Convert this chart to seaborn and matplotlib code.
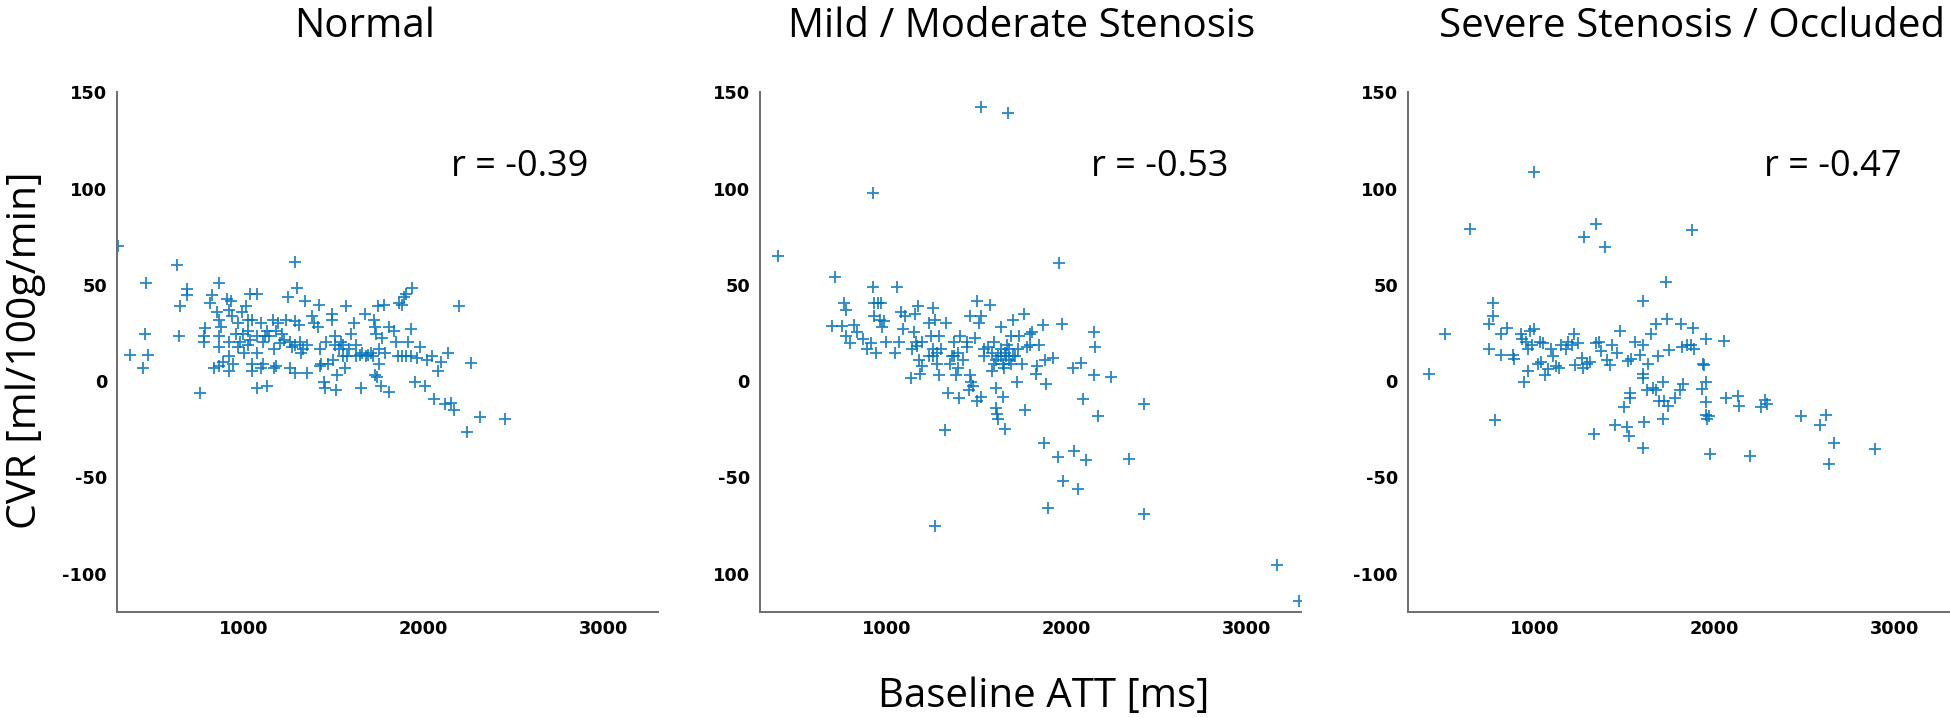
import matplotlib
matplotlib.use("Agg")
import matplotlib.pyplot as plt
import seaborn as sns
import pandas as pd
from matplotlib.ticker import FixedLocator, FixedFormatter

# ---------------- data ----------------
titles = ["Normal", "Mild / Moderate Stenosis", "Severe Stenosis / Occluded"]
r_labels = ["r = -0.39", "r = -0.53", "r = -0.47"]
r_x = [2535, 2514, 2654]
r_y = [106.5, 106.5, 106.5]

x_ticks = [1000, 2000, 3000]
y_ticks = [-100, -50, 0, 50, 100, 150]
y_ticklabels_std = ["-100", "-50", "0", "50", "100", "150"]
y_ticklabels_mid = ["100", "-50", "0", "50", "100", "150"]

normal_att = [304, 374, 444, 456, 463, 472, 631, 650, 643, 689, 689, 762, 790, 785, 785,
              864, 829, 818, 853, 864, 836, 864, 876, 864, 864, 911, 930, 935, 923, 923,
              946, 958, 970, 981, 993, 1005, 1016, 1028, 1028, 1040, 1051, 1051, 1040, 1079,
              1075, 1075, 1098, 1110, 1110, 1133, 1145, 1164, 1168, 1180, 1192, 1203, 1215,
              1250, 1262, 1262, 1273, 1285, 1297, 1285, 1285, 1308, 1313, 1320, 1343, 1355,
              1379, 1390, 1414, 1421, 1425, 1432, 1449, 1453, 1460, 1495, 1495, 1500, 1507,
              1514, 1519, 1530, 1542, 1554, 1565, 1572, 1589, 1600, 1612, 1624, 1654, 1659,
              1678, 1694, 1717, 1724, 1729, 1736, 1745, 1729, 1741, 1752, 1764, 1771, 1780,
              1787, 1811, 1811, 1834, 1846, 1857, 1864, 1881, 1893, 1904, 1935, 1928, 1911,
              1904, 1951, 1963, 1981, 2009, 2021, 2044, 2056, 2079, 2098, 2121, 2138, 2150,
              2168, 2196, 2243, 2262, 2313, 2449,
              1000, 1028, 970, 1079, 1121, 1180, 1227, 1332, 1425, 1472, 1507, 1554, 1577,
              1624, 1647, 1682, 1706, 1752, 1881, 1928, 923, 888, 1051, 1133, 1238, 1355,
              1285, 1098, 1168, 923]
normal_cvr = [70, 13.8, 7.1, 24.4, 51.2, 13.8, 60.3, 39.2, 23.4, 48, 44.5, -6.3, 27.8, 23.4,
              20.5, 51.2, 44.5, 40.7, 35.9, 32, 7.1, 8, 28.2, 23.4, 17.7, 42.6, 41.7, 34, 20.5,
              5.2, 9, 24.4, 30, 20.5, 35.9, 14.8, 38.8, 32, 26.3, 21.5, 9, 5.2, 45.5, 45.5,
              -3.5, 14.8, 30, 20.5, 9, -2.5, 23.4, 32, 16.7, 8, 30, 19.6, 24.4, 43.6, 20.5,
              7.1, 17.7, 61.8, 48.4, 31.1, 4.2, 29.2, 20.5, 14.8, 41.7, 4.2, 34, 30, 28.2,
              39.7, 16.7, 9, -0.6, -3.5, 20.5, 34.9, 32, 10.9, 18.6, -4.4, 3.3, 16.7, 20.5,
              12.9, 7.1, 38.8, 16.7, 24.4, 30, 18.6, -3.5, 14.8, 34.9, 13.8, 12.9, 32, 28.2,
              24.4, 38.8, 3.3, 2.3, 9, -2.5, 22.5, 39.7, 14.8, -5.4, 28.2, 26.3, 20.5, 12.9,
              40.7, 39.7, 43.6, 45.5, 48.4, 27.3, 20.5, 12.9, -0.6, 11.9, 17.7, -2.5, 10.9,
              12.9, -9.2, 5.2, 10, -12.1, 14.8, -11.1, -15, 39.2, -26.5, 9.4, -18.8, -19.8,
              24.4, 18.6, 17.7, 23.4, 23.4, 26.3, 21.5, 16.7, 8, 9, 23.4, 18.6, 12.9, 12.9,
              13.8, 12.9, 14.8, 16.7, 12.9, 12.9, 12.9, 10, 32, 26.3, 32, 18.6, 18.6, 7.1,
              7.1, 36.9]

mild_att = [401, 714, 925, 1523, 1676, 1958, 1974, 925, 1059, 702, 754, 765, 777, 777, 800,
            824, 836, 871, 894, 918, 930, 934, 941, 953, 965, 977, 988, 1000, 972, 1047, 1070,
            1082, 1094, 1106, 1136, 1153, 1160, 1169, 1176, 1183, 1188, 1200, 1200, 1235, 1246,
            1258, 1258, 1270, 1282, 1293, 1293, 1305, 1324, 1270, 1329, 1340, 1352, 1364, 1376,
            1387, 1399, 1404, 1411, 1423, 1446, 1458, 1465, 1465, 1469, 1481, 1493, 1505, 1505,
            1516, 1528, 1528, 1540, 1563, 1575, 1587, 1599, 1610, 1615, 1622, 1610, 1622, 1634,
            1638, 1646, 1653, 1657, 1662, 1669, 1681, 1692, 1704, 1716, 1723, 1728, 1739, 1751,
            1763, 1770, 1779, 1798, 1810, 1829, 1845, 1869, 1873, 1880, 1887, 1897, 1927, 1951,
            1981, 2038, 2040, 2063, 2080, 2092, 2108, 2150, 2157, 2150, 2174, 2244, 2345, 2427,
            2432, 3167, 3289,
            1540, 1587, 1610, 1634, 1657, 1681, 1704, 1599, 1646, 1692, 1141, 1164, 1235, 1282,
            1376, 1399, 1446, 1258, 1798, 1834]
mild_cvr = [65.1, 54.1, 97.9, 142.2, 139, 61.2, 29.8, 48.8, 48.8, 28.6, 28.6, 40.7, 36.9, 23.4,
            19.6, 29.2, 25.3, 22.1, 16.7, 19.6, 40.7, 34, 14.8, 40.7, 32, 28.2, 31.1, 20.5, 40.7,
            14.4, 20.2, 35.9, 27.3, 34, 1.7, 25.3, 34.9, 18.2, 38.8, 10.9, 3.6, 8, 20.5, 30, 23.4,
            37.8, 16.7, 32, 9, 3.3, 23.4, 16.7, -25.5, -75.4, 30, -6.3, 9, 12.9, 20.5, 3.3, 14.8,
            -8.6, 23.4, 10.9, 17.7, -4.4, 3.3, 34, -0.6, -2.5, 22.5, 41.7, -10.2, 30, -8.3, 34,
            12.9, 17.7, 39.7, 5.2, 20.5, -14, -16.9, -19.8, -3.5, 12.9, 28.2, 16.7, -8.3, 7.1,
            -24.6, 12.9, 18.6, 10.9, 23.4, 32, 12.9, -0.6, 16.7, 23.4, 9, 34.9, -15, 17.7, 24.4,
            25.3, 3.6, 18.6, 29.2, -32.2, 10.9, -1.5, -65.8, 11.9, -39.5, -52, 7.1, -36.1, -55.9,
            9.4, -9.2, -40.9, 25.7, 18, 3.3, -18.2, 2.3, -40.3, -12.1, -69.1, -95.2, -114.2,
            16.7, 14.8, 10.9, 12.9, 14.8, 16.7, 12.9, 9, 9, 9, 16.7, 20.5, 12.9, 14.8, 12.9,
            7.1, 20.5, 12.9, 18.6, 8]

severe_att = [417, 503, 645, 1000, 1274, 1342, 1391, 1875, 1729, 1601, 773, 773, 750, 750, 813,
              818, 784, 847, 881, 890, 924, 930, 941, 953, 964, 964, 975, 998, 987, 1020, 1031,
              1038, 1047, 1061, 1076, 1092, 1106, 1121, 1137, 1151, 1178, 1189, 1211, 1223, 1227,
              1245, 1263, 1272, 1290, 1308, 1331, 1342, 1358, 1369, 1403, 1421, 1432, 1448, 1459,
              1477, 1497, 1515, 1522, 1526, 1533, 1538, 1533, 1560, 1587, 1601, 1605, 1605, 1605,
              1610, 1623, 1632, 1646, 1661, 1673, 1677, 1684, 1691, 1713, 1713, 1718, 1736, 1740,
              1745, 1781, 1808, 1814, 1819, 1826, 1848, 1871, 1882, 1886, 1931, 1938, 1943, 1954,
              1954, 1954, 1954, 1960, 1969, 1976, 2051, 2062, 2129, 2138, 2197, 2258, 2281, 2292,
              2478, 2584, 2618, 2636, 2663, 2892]
severe_cvr = [3.8, 24.4, 79.1, 108.8, 74.7, 81.4, 69.9, 78.5, 51.6, 41.7, 40.7, 34, 29.8, 16.7,
              24.4, 13.8, -20.3, 27.8, 13.8, 11.3, 24.4, 22.1, -0.2, 20.5, 16.7, 5.2, 26.3, 27.3,
              18.6, 9, 20.5, 10, 19.6, 3.3, 6.1, 16.7, 12.9, 8, 7.1, 18.6, 16.7, 20.5, 18.6, 24.4,
              8.6, 19.6, 11.9, 6.7, 9, 10, -27.4, 19.6, 20.5, 15.7, 10.9, 8.6, 18.6, -22.6, 14.8,
              25.9, -13.6, -23.6, 10.6, -28.4, -6.3, 11.3, -8.8, 20.2, 13.8, 3.8, 1.7, 18.6,
              -34.7, -21.3, -4.4, 9, 24.4, -3.5, -4.4, 29.8, 12.9, -10.2, -0.2, -19.4, -10.2,
              32.4, -13.1, 16.3, -8.6, -4.4, 29.8, 17.7, -1.5, 18.6, 18.6, 27.8, 16.7, -4, 9, 8.6,
              22.1, -0.2, -10.6, -17.5, -19.8, -18.2, -37.6, 21.1, -8.6, -7.7, -13.1, -38.6,
              -13.4, -9.8, -12.1, -18.2, -22.6, -17.3, -43.2, -32.2, -35.1]

groups = [(normal_att, normal_cvr), (mild_att, mild_cvr), (severe_att, severe_cvr)]

# ---------------- style ----------------
sns.set_style("white")
plt.rcParams["font.family"] = ["Open Sans", "DejaVu Sans"]

W, H = 1950, 718
fig = plt.figure(figsize=(W / 100, H / 100), dpi=100)

spine_color = "#707070"
marker_color = "#0072BD"
lefts = [117, 760, 1408]
ax_w = 541
top_px, bot_px = 92.3, 612.3

for i, (xs, ys) in enumerate(groups):
    ax = fig.add_axes([lefts[i] / W, (H - bot_px) / H, ax_w / W, (bot_px - top_px) / H])
    df = pd.DataFrame({"att": xs, "cvr": ys})
    sns.scatterplot(data=df, x="att", y="cvr", ax=ax, marker="+", s=64,
                    color=marker_color, linewidth=1.3, alpha=0.85, legend=False)
    ax.set_xlim(300, 3300)
    ax.set_ylim(-120, 150)
    ax.set_xlabel("")
    ax.set_ylabel("")
    ax.xaxis.set_major_locator(FixedLocator(x_ticks))
    ax.yaxis.set_major_locator(FixedLocator(y_ticks))
    ax.yaxis.set_major_formatter(FixedFormatter(y_ticklabels_mid if i == 1 else y_ticklabels_std))
    sns.despine(ax=ax)
    for s in ["left", "bottom"]:
        ax.spines[s].set_color(spine_color)
        ax.spines[s].set_linewidth(1.45)
    ax.tick_params(axis="both", direction="in", length=4.3, width=1.1, color=spine_color,
                   labelsize=12.8, labelcolor="black")
    ax.tick_params(axis="y", pad=7.2)
    ax.tick_params(axis="x", pad=5.5)
    for lab in ax.get_xticklabels() + ax.get_yticklabels():
        lab.set_fontfamily("DejaVu Sans")
        lab.set_fontweight("bold")
    ax.text(r_x[i], r_y[i], r_labels[i], ha="center", va="baseline", fontsize=26,
            family="Open Sans", color="black")

# titles and shared labels
title_cx = [365, 1022, 1692]
for i, t in enumerate(titles):
    fig.text(title_cx[i] / W, 1 - 37 / H, t, ha="center", va="baseline", fontsize=29,
             family="Open Sans", color="black")

fig.text(26 / W, 1 - 350 / H, "CVR [ml/100g/min]", rotation=90, ha="center", va="center",
         fontsize=29.5, family="Open Sans", color="black")
fig.text(1044 / W, 1 - 707 / H, "Baseline ATT [ms]", ha="center", va="baseline",
         fontsize=29, family="Open Sans", color="black")

fig.savefig("out.png", dpi=100)
